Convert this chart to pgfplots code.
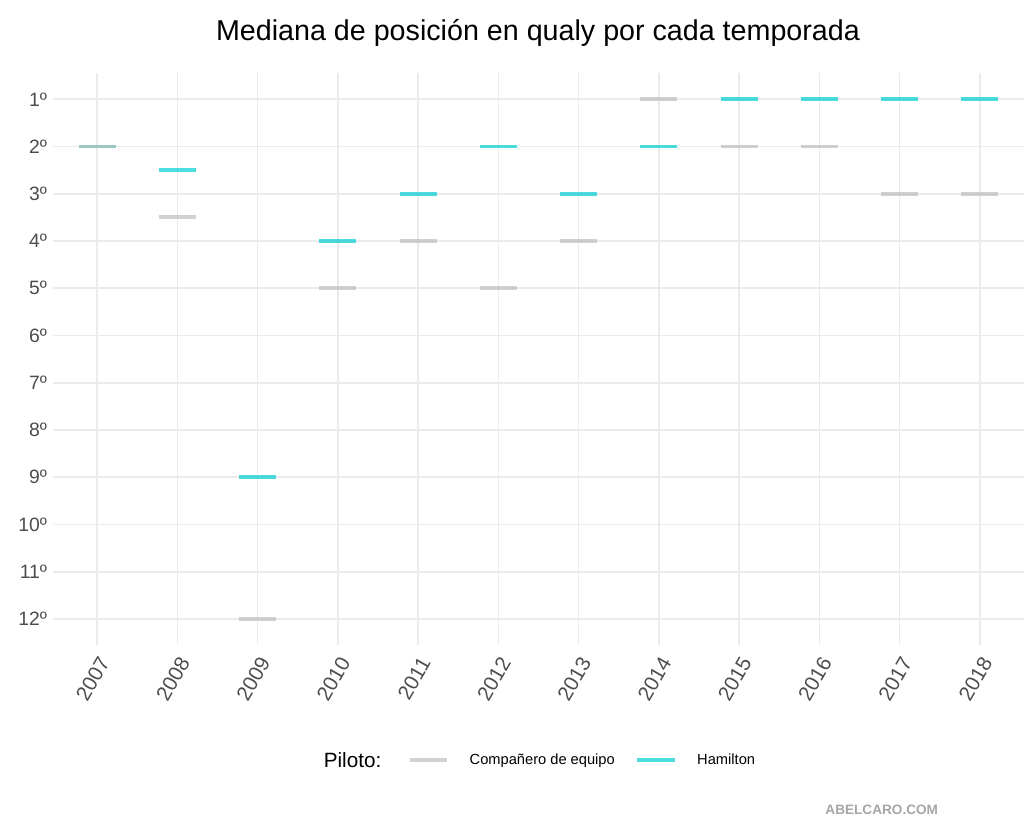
\documentclass[border=0pt]{standalone}
\usepackage{fontspec}
\setmainfont{Liberation Sans}
\usepackage{pgfplots}
\pgfplotsset{compat=1.18}
\definecolor{ham}{HTML}{00CED1}
\definecolor{comp}{HTML}{BEBEBE}
\definecolor{gridc}{HTML}{EBEBEB}
\definecolor{tickc}{HTML}{4D4D4D}
\begin{document}
\begin{tikzpicture}[x=1pt,y=1pt]
\useasboundingbox (-39.75,-130.5) rectangle (728.25,483.75);
\begin{axis}[
  at={(0,0)}, anchor=south west,
  scale only axis, width=728.25pt, height=428.8pt,
  xmin=2006.45, xmax=2018.55,
  ymin=0.45, ymax=12.55, y dir=reverse,
  xtick={2007,2008,2009,2010,2011,2012,2013,2014,2015,2016,2017,2018},
  xticklabels={2007,2008,2009,2010,2011,2012,2013,2014,2015,2016,2017,2018},
  ytick={1,2,3,4,5,6,7,8,9,10,11,12},
  yticklabels={1º,2º,3º,4º,5º,6º,7º,8º,9º,10º,11º,12º},
  grid=major, major grid style={draw=gridc, line width=1.2pt},
  axis line style={draw=none}, tick style={draw=none},
  y tick label style={font=\fontsize{14.5}{16}\selectfont, text=tickc, anchor=east, xshift=-1pt},
  x tick label style={font=\fontsize{15.5}{17}\selectfont, text=tickc, xshift=7pt, yshift=-7.5pt, rotate=60, anchor=east},
  legend style={at={(0.3632,-0.2012)}, anchor=west, draw=none, fill=none,
    legend columns=2, font=\fontsize{11}{13}\selectfont,
    /tikz/every odd column/.append style={column sep=15pt},
    /tikz/every even column/.append style={column sep=15pt}},
  reverse legend,
]
\addplot[only marks, mark=-, mark size=13.9pt,
  mark options={line width=2.9pt, draw=ham, draw opacity=0.7}]
  coordinates {(2007,2) (2008,2.5) (2009,9) (2010,4) (2011,3) (2012,2)
               (2013,3) (2014,2) (2015,1) (2016,1) (2017,1) (2018,1)};
\addlegendentry{Hamilton}
\addplot[only marks, mark=-, mark size=13.9pt,
  mark options={line width=2.9pt, draw=comp, draw opacity=0.7}]
  coordinates {(2007,2) (2008,3.5) (2009,12) (2010,5) (2011,4) (2012,5)
               (2013,4) (2014,1) (2015,2) (2016,2) (2017,3) (2018,3)};
\addlegendentry{Compañero de equipo}
\end{axis}
\node[font=\fontsize{21.5}{25}\selectfont] at (363.75,459) {Mediana de posición en qualy por cada temporada};
\node[anchor=east, font=\fontsize{15.5}{18}\selectfont] at (249.75,-86.25) {Piloto:};
\node[anchor=east, font=\bfseries\fontsize{10.2}{12}\selectfont, text=black!35] at (667.3,-123.75) {ABELCARO.COM};
\end{tikzpicture}
\end{document}
